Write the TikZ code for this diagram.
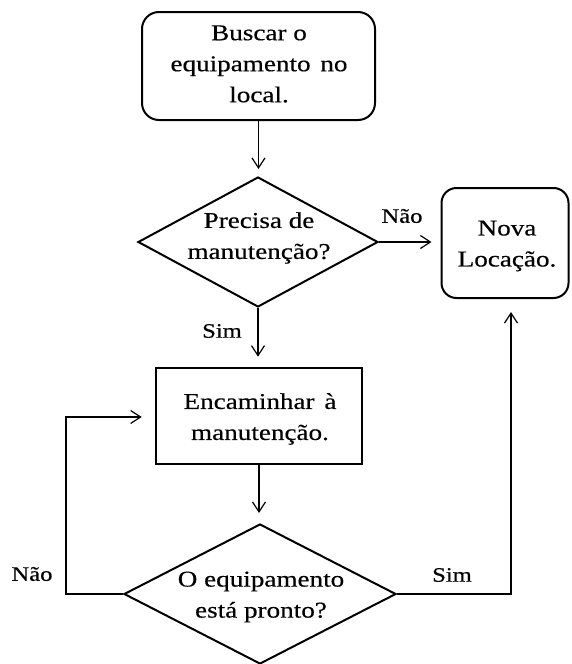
\documentclass[tikz,border=0pt]{standalone}
\usepackage{fontspec}
\setmainfont{Liberation Serif}[FakeStretch=1.2,FakeBold=0.4]
\usetikzlibrary{shapes.geometric,arrows.meta}
\begin{document}
\begin{tikzpicture}[x=1pt,y=-1pt,
  boxtext/.style={font=\fontsize{22.6}{31}\selectfont, align=center, inner sep=0pt},
  lbl/.style={font=\fontsize{20.5}{24}\selectfont, inner sep=0pt},
  roundbox/.style={draw, line width=2pt, rounded corners=17pt, inner sep=0pt},
  plainbox/.style={draw, line width=2.6pt, inner sep=0pt},
  decision/.style={draw, diamond, line width=2pt, inner sep=0pt},
  flow/.style={line width=1.2pt, -{Straight Barb[length=10pt,width=13pt,line width=1.2pt]}},
  plainline/.style={line width=1.2pt}]
\useasboundingbox (0,0) rectangle (571,664);
% nodes
\node[roundbox, minimum width=233pt, minimum height=108pt] (start) at (258.5,66) {};
\node[boxtext] (startt) at (259,64) {Buscar o\\equipamento\hspace{3pt} no\\local.};
\node[decision, minimum width=240pt, minimum height=130pt, shape aspect=1.85] (d1) at (258,242) {};
\node[boxtext] (d1t) at (259,238) {Precisa de\\manutenção?};
\node[roundbox, rounded corners=15pt, minimum width=127pt, minimum height=110pt] (nova) at (505,243) {};
\node[boxtext] (novat) at (507,246) {Nova\\Locação.};
\node[plainbox, minimum width=206pt, minimum height=96pt] (enc) at (259,416) {};
\node[boxtext] (enct) at (260,419) {Encaminhar\hspace{3pt} à\\manutenção.};
\node[decision, minimum width=272pt, minimum height=140pt, shape aspect=1.94] (d2) at (260,594) {};
\node[boxtext] (d2t) at (261,597) {O equipamento\\está pronto?};
% corner coordinates
\coordinate (lc1) at (66,594);
\coordinate (lc2) at (66,417);
\coordinate (rc1) at (511,594);
\coordinate (rc2) at (511,298);
% connectors
\draw[flow, shorten >=7pt] (start.south) -- (start.south |- d1.north);
\draw[flow, shorten >=9pt] (d1.east) -- (nova.west |- d1.east);
\draw[flow, shorten >=10pt] (d1.south) -- (d1.south |- enc.north);
\draw[flow, shorten >=10pt] (enc.south) -- (enc.south |- d2.north);
\draw[flow, shorten >=13pt] (d2.west) -- (lc1) -- (lc2) -- (enc.west |- lc2);
\draw[flow, shorten >=14pt] (d2.east) -- (rc1) -- (rc2);
% labels
\node[lbl] (l1) at (402,216) {Não};
\node[lbl] (l2) at (222,331) {Sim};
\node[lbl] (l3) at (452,575) {Sim};
\node[lbl] (l4) at (32,574) {Não};
\end{tikzpicture}
\end{document}
